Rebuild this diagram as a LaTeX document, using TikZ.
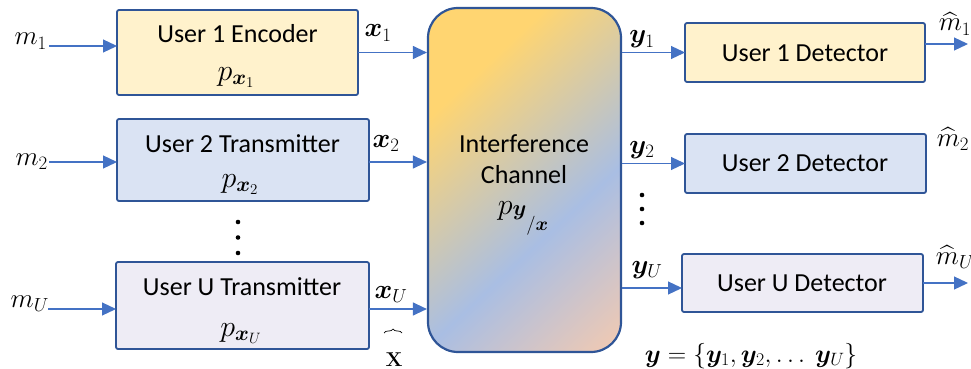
\RequirePackage{fix-cm}
\documentclass[tikz,border=0pt]{standalone}
\usepackage{amsmath,bm}
\usepackage[no-math]{fontspec}
\setmainfont{Carlito}
\usetikzlibrary{arrows.meta,decorations.pathreplacing,calc}

\definecolor{edge}{HTML}{2F5597}
\definecolor{wirec}{HTML}{4472C4}
\definecolor{cream}{HTML}{FFF2CC}
\definecolor{pale}{HTML}{DAE3F3}
\definecolor{lilac}{HTML}{EEECF5}
\definecolor{gold}{HTML}{FFD571}
\definecolor{sky}{HTML}{A9BEE3}
\definecolor{peach}{HTML}{F4CAB0}

% diagonal gold -> blue -> peach fill of the channel block
\pgfdeclarehorizontalshading{chanshade}{100bp}{%
  color(0bp)=(gold); color(36bp)=(gold); color(57bp)=(sky);
  color(74bp)=(peach); color(100bp)=(peach)}

\tikzset{
  box/.style={draw=edge, line width=1.8pt, rounded corners=2pt,
    inner sep=0pt, outer sep=0pt},
  lbl/.style={font=\fontsize{26}{30}\selectfont, inner sep=0pt},
  mth/.style={font=\fontsize{27}{32}\selectfont, inner sep=0pt},
  pmth/.style={font=\fontsize{30}{34}\selectfont, inner sep=0pt},
  wire/.style={draw=wirec, line width=1.2pt,
    -{Triangle[length=14pt,width=13pt]}},
}

\begin{document}
\begin{tikzpicture}[x=1pt,y=-1pt]
\useasboundingbox (0,0) rectangle (971,369);

% ---- transmitters ----
\node[box, fill=cream, minimum width=241pt, minimum height=85pt] (enc1) at (237.5,52.5) {};
\node[box, fill=pale,  minimum width=252pt, minimum height=82pt] (tx2)  at (243,160) {};
\node[box, fill=lilac, minimum width=253pt, minimum height=87pt] (txU)  at (242.5,305.5) {};

\node[lbl, anchor=base] (enc1a) at (237.5,43) {User 1 Encoder};
\node[pmth, anchor=base] (enc1b) at (236,80) {$p_{\bm{x}_1}$};
\node[lbl, anchor=base] (tx2a) at (242.5,152) {User 2 Transmitter};
\node[pmth, anchor=base] (tx2b) at (240,187) {$p_{\bm{x}_2}$};
\node[lbl, anchor=base] (txUa) at (242,295) {User U Transmitter};
\node[pmth, anchor=base] (txUb) at (241,336) {$p_{\bm{x}_U}$};

% vertical ellipsis between user 2 and user U
\fill (238,222) circle[radius=2.3pt];
\fill (238,237.5) circle[radius=2.3pt];
\fill (238,253) circle[radius=2.3pt];

% ---- channel ----
\node[draw=edge, line width=2.2pt, rounded corners=30pt, inner sep=0pt,
      minimum width=193pt, minimum height=344pt,
      path picture={\path[shading=chanshade, shading angle=-47]
        (path picture bounding box.center) circle[radius=200pt];}]
      (chan) at (524.5,180) {};
\node[lbl, anchor=base] (chana) at (524,152) {Interference};
\node[lbl, anchor=base] (chanb) at (524,183) {Channel};
\node[pmth, anchor=base] (chanc) at (523,214)
  {$p$\raisebox{-1pt}{\fontsize{22}{22}\selectfont$\bm{y}$}\raisebox{-16pt}{\fontsize{19}{19}\selectfont$/\bm{x}$}};

% ---- detectors ----
\node[box, fill=cream, minimum width=240pt, minimum height=59pt] (det1) at (805,52.5) {};
\node[box, fill=pale,  minimum width=241pt, minimum height=59pt] (det2) at (805.5,163.5) {};
\node[box, fill=lilac, minimum width=241pt, minimum height=58pt] (detU) at (802.5,283) {};
\node[lbl, anchor=base] (det1a) at (805,62) {User 1 Detector};
\node[lbl, anchor=base] (det2a) at (805,171) {User 2 Detector};
\node[lbl, anchor=base] (detUa) at (802,291) {User U Detector};

% right-hand vertical ellipsis
\fill (642,195) circle[radius=2.3pt];
\fill (642,209) circle[radius=2.3pt];
\fill (642,223) circle[radius=2.3pt];

% ---- messages in ----
\coordinate (m1s) at (49,46);
\coordinate (m2s) at (49,162);
\coordinate (mUs) at (48,309);
\node[mth, anchor=base east] (m1) at (47,45) {$m_1$};
\node[mth, anchor=base east] (m2) at (48,165) {$m_2$};
\node[mth, anchor=base east] (mU) at (49,307) {$m_U$};
\draw[wire] (m1s) -- (m1s -| enc1.west);
\draw[wire] (m2s) -- (m2s -| tx2.west);
\draw[wire] (mUs) -- (mUs -| txU.west);

% ---- channel inputs ----
\draw[wire] (enc1.east) -- (enc1.east -| chan.west);
\draw[wire] (m2s -| tx2.east) -- (m2s -| chan.west);
\draw[wire] (mUs -| txU.east) -- (mUs -| chan.west);
\node[mth, anchor=base] (x1) at (378,37) {$\bm{x}_1$};
\node[mth, anchor=base] (x2) at (386,147) {$\bm{x}_2$};
\node[mth, anchor=base] (xU) at (391,298) {$\bm{x}_U$};
\draw[line width=0.7pt, decorate, decoration={brace, amplitude=4pt}]
  (384,333) -- (402,333);
\node[font=\fontsize{20}{24}\selectfont, inner sep=0pt, anchor=base] (X) at (394,366) {$\mathbf{X}$};

% ---- channel outputs ----
\coordinate (yUs) at (621,288);
\draw[wire] (det1.west -| chan.east) -- (det1.west);
\draw[wire] (det2.west -| chan.east) -- (det2.west);
\draw[wire] (yUs -| chan.east) -- (yUs -| detU.west);
\node[mth, anchor=base] (y1) at (642,43) {$\bm{y}_1$};
\node[mth, anchor=base] (y2) at (642,153) {$\bm{y}_2$};
\node[mth, anchor=base] (yU) at (647,273) {$\bm{y}_U$};
\node[font=\fontsize{25.5}{30}\selectfont, inner sep=0pt, anchor=base] (yset) at (751,362)
  {$\bm{y}=\{\bm{y}_1,\bm{y}_2,\dots\ \bm{y}_U\}$};

% ---- decisions out ----
\coordinate (mh1e) at (968,44);
\coordinate (mhUe) at (968,283);
\draw[wire] (mh1e -| det1.east) -- (mh1e);
\draw[wire] (detU.east) -- (mhUe);
\node[mth, anchor=base] (mh1) at (955,31) {$\widehat{m}_1$};
\node[mth, anchor=base] (mh2) at (953,146) {$\widehat{m}_2$};
\node[mth, anchor=base] (mhU) at (955,264) {$\widehat{m}_U$};
\end{tikzpicture}
\end{document}
